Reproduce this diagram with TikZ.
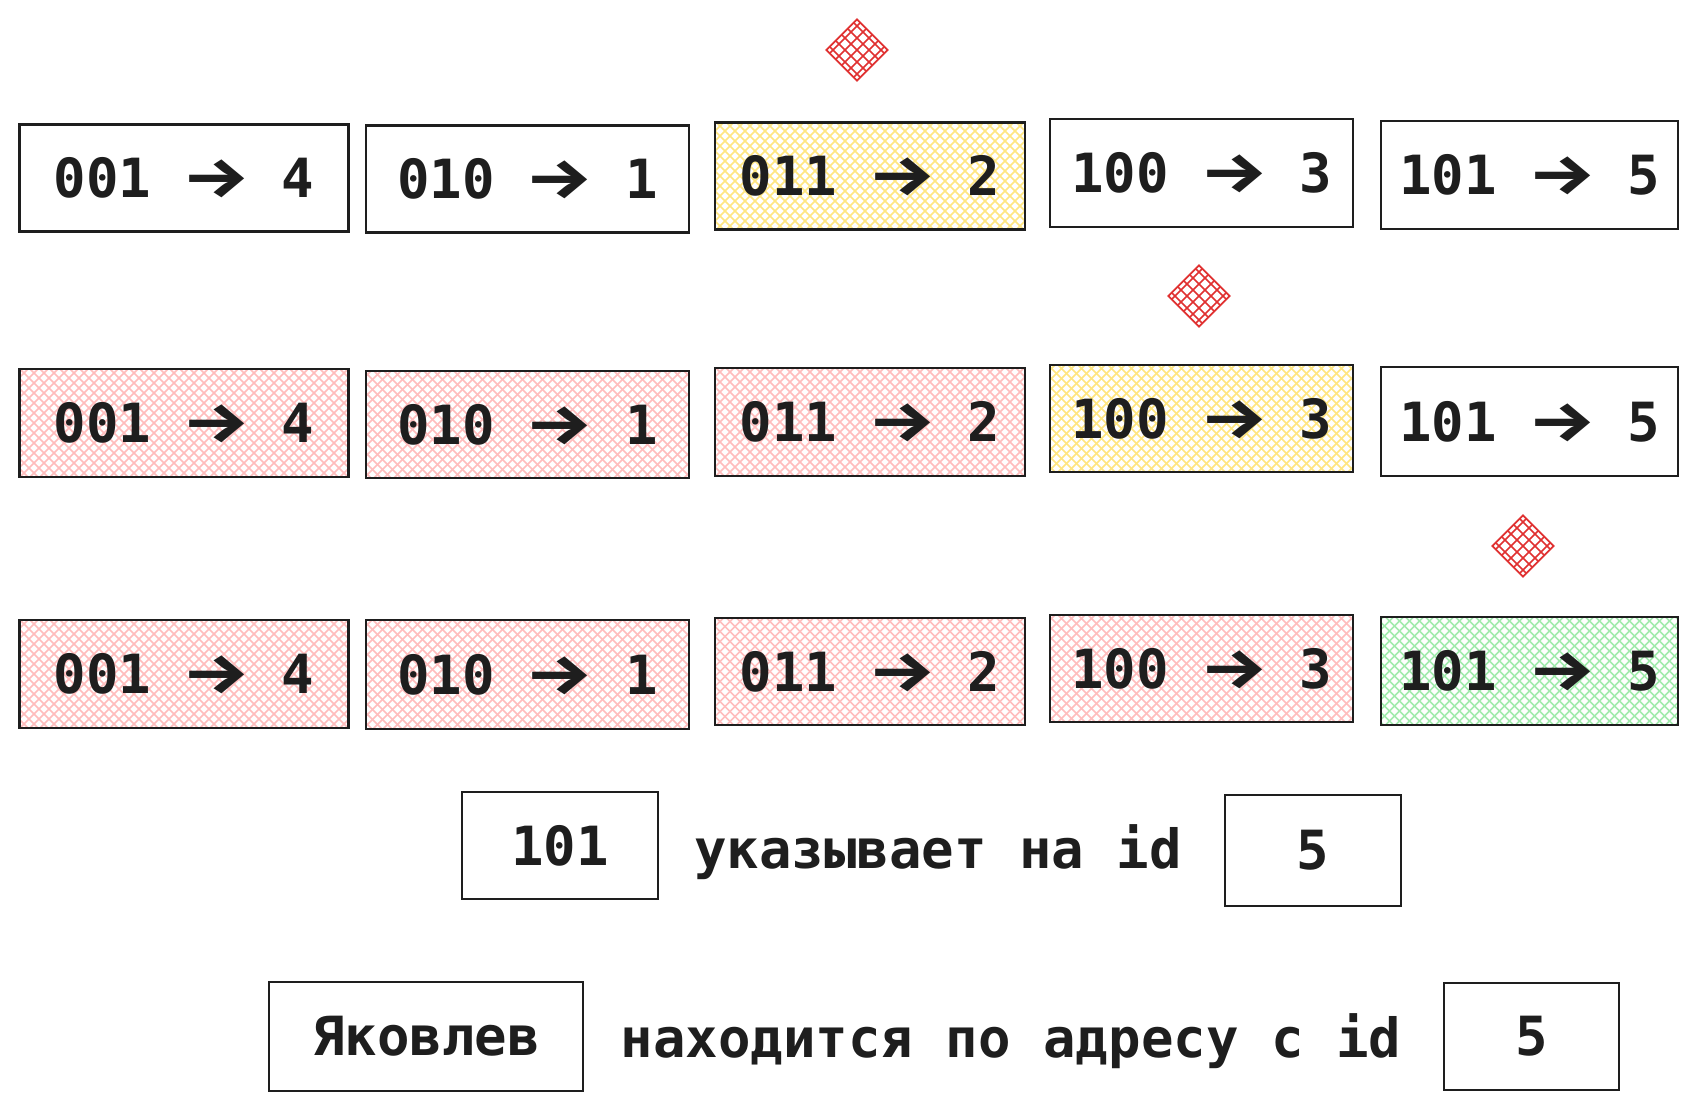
\documentclass[tikz,border=0pt]{standalone}
\usepackage{fontspec}
\setmonofont{DejaVu Sans Mono}
\newfontfamily\arrfont{Fira Sans}
\usetikzlibrary{shapes.geometric}
\definecolor{ink}{HTML}{1E1E1E}
\definecolor{pinkh}{HTML}{FFBDBD}
\definecolor{yellowh}{HTML}{FFE680}
\definecolor{greenh}{HTML}{A3EBAE}
\definecolor{redd}{HTML}{E03131}
\newcommand\arr{\makebox[1.204em]{\scalebox{1.4}[1.05]{\arrfont\bfseries →}}}
\newcommand\ent[2]{#1 \arr{} #2}
\tikzset{
  hatch/.style 2 args={path picture={
    \foreach \k in {-28,...,28}{
      \draw[#1, line width=1.7pt] ([shift={(\k*#2-250,-250)}]path picture bounding box.center) -- ++(500,500);
      \draw[#1, line width=1.7pt] ([shift={(\k*#2-250,250)}]path picture bounding box.center) -- ++(500,-500);
    }}},
  box/.style={draw=ink, line width=2.2pt, inner sep=0pt,
    font=\fontsize{54}{60}\selectfont\ttfamily\bfseries, text=ink},
  lbl/.style={font=\fontsize{54}{60}\selectfont\ttfamily\bfseries, text=ink,
    anchor=base, inner sep=0pt},
  diam/.style={diamond, draw=redd, line width=1.8pt, minimum width=62pt,
    minimum height=62pt, aspect=1, inner sep=0pt, hatch={redd}{12}},
  pk/.style={hatch={pinkh}{10}},
  yl/.style={hatch={yellowh}{10}},
  gr/.style={hatch={greenh}{10}},
  w1/.style={minimum width=329pt}, w2/.style={minimum width=323pt},
  w3/.style={minimum width=310pt}, w4/.style={minimum width=303pt},
  w5/.style={minimum width=297pt}
}
\begin{document}
\begin{tikzpicture}[x=1pt,y=-1pt]
\useasboundingbox[fill=white] (0,0) rectangle (1697,1110);

% diamonds
\node[diam] (d1) at (857,50) {};
\node[diam] (d2) at (1199,296) {};
\node[diam] (d3) at (1523,546) {};

% row 1
\node[box,w1,minimum height=107pt] (a1) at (184,178) {\ent{001}{4}};
\node[box,w2,minimum height=107pt] (a2) at (527.5,179) {\ent{010}{1}};
\node[box,w3,yl,minimum height=107pt] (a3) at (870,176) {\ent{011}{2}};
\node[box,w4,minimum height=108pt] (a4) at (1201.5,173) {\ent{100}{3}};
\node[box,w5,minimum height=108pt] (a5) at (1529.5,175) {\ent{101}{5}};

% row 2
\node[box,w1,pk,minimum height=108pt] (b1) at (184,423) {\ent{001}{4}};
\node[box,w2,pk,minimum height=107pt] (b2) at (527.5,424.5) {\ent{010}{1}};
\node[box,w3,pk,minimum height=108pt] (b3) at (870,422) {\ent{011}{2}};
\node[box,w4,yl,minimum height=107pt] (b4) at (1201.5,418.5) {\ent{100}{3}};
\node[box,w5,minimum height=109pt] (b5) at (1529.5,421.5) {\ent{101}{5}};

% row 3
\node[box,w1,pk,minimum height=108pt] (c1) at (184,674) {\ent{001}{4}};
\node[box,w2,pk,minimum height=109pt] (c2) at (527.5,674.5) {\ent{010}{1}};
\node[box,w3,pk,minimum height=107pt] (c3) at (870,671.5) {\ent{011}{2}};
\node[box,w4,pk,minimum height=107pt] (c4) at (1201.5,668.5) {\ent{100}{3}};
\node[box,w5,gr,minimum height=108pt] (c5) at (1529.5,671) {\ent{101}{5}};

% row 4
\node[box,minimum width=196pt,minimum height=107pt] (k1) at (560,845.5) {101};
\node[lbl] (t1) at (938,868) {указывает на id};
\node[box,minimum width=176pt,minimum height=111pt] (v1) at (1313,850.5) {5};

% row 5
\node[box,minimum width=314pt,minimum height=109pt] (k2) at (426,1036.5) {Яковлев};
\node[lbl] (t2) at (1011,1057) {находится по адресу с id};
\node[box,minimum width=175pt,minimum height=107pt] (v2) at (1531.5,1036.5) {5};
\end{tikzpicture}
\end{document}
